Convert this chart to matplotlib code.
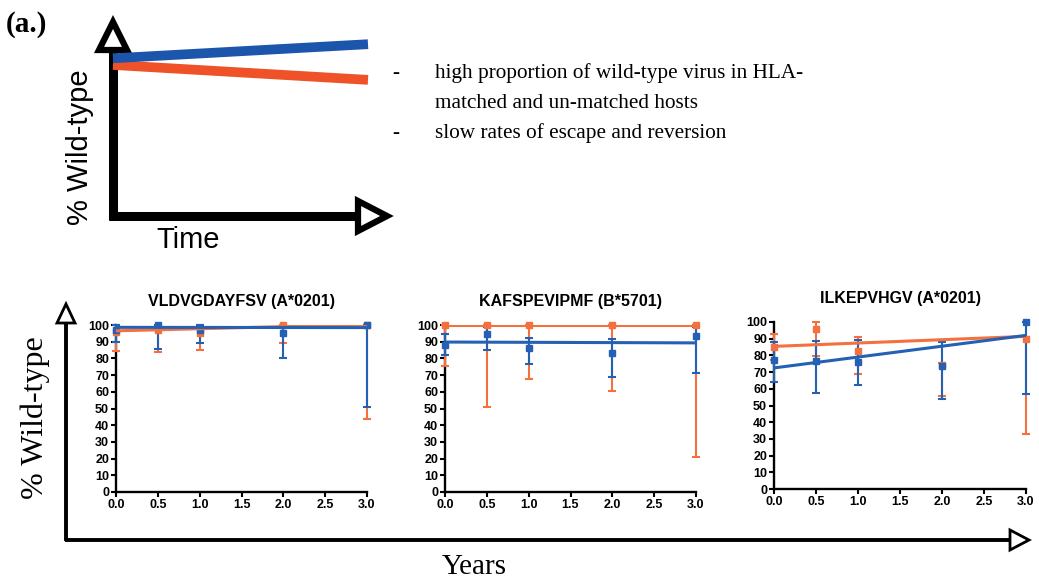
import matplotlib
matplotlib.use("Agg")
import matplotlib.pyplot as plt
import numpy as np
from matplotlib.patches import Polygon

W, H = 1039, 585
fig = plt.figure(figsize=(W / 100, H / 100), dpi=100)

BLUE = "#2461b5"
ORANGE = "#f4703e"
SCHEM_BLUE = "#1c55ac"
SCHEM_ORANGE = "#ef5228"

# ---------------- data ----------------
years = [0.0, 0.5, 1.0, 2.0, 3.0]
x_ticks = [0.0, 0.5, 1.0, 1.5, 2.0, 2.5, 3.0]
y_ticks = [0, 10, 20, 30, 40, 50, 60, 70, 80, 90, 100]
titles = ["VLDVGDAYFSV (A*0201)", "KAFSPEVIPMF (B*5701)", "ILKEPVHGV (A*0201)"]

# panel 1: VLDVGDAYFSV (A*0201)
p1_blue_mean = [97, 100, 97, 95.5, 100]
p1_blue_low = [90, 85.5, 89.5, 80.5, 51]
p1_blue_high = [100, 100, 100, 99, 100]
p1_orange_mean = [96, 97, 95, 100, 100]
p1_orange_low = [84.5, 84, 85, 89.5, 44]
p1_orange_high = [100, 100, 100, 100, 100]
p1_blue_fit = [98.6, -0.05]      # intercept, slope
p1_orange_fit = [96.5, 1.27]

# panel 2: KAFSPEVIPMF (B*5701)
p2_blue_mean = [88, 94.6, 86, 83.3, 93.6]
p2_blue_low = [82, 85.3, 76.7, 69.1, 71.5]
p2_blue_high = [94.4, 99, 92.4, 91.8, 99]
p2_orange_mean = [100, 100, 100, 100, 100]
p2_orange_low = [75.7, 50.8, 67.7, 60.6, 20.7]
p2_orange_high = [100, 100, 100, 100, 100]
p2_blue_fit = [89.8, -0.17]
p2_orange_fit = [100.0, 0.0]

# panel 3: ILKEPVHGV (A*0201)
p3_blue_mean = [77.5, 76.4, 75.8, 73.8, 100]
p3_blue_low = [64, 57.5, 62.3, 54, 57]
p3_blue_high = [88, 88.8, 89.2, 88.2, 100]
p3_orange_mean = [85, 96, 82.8, 74, 90]
p3_orange_low = [77, 79.6, 68.7, 55.5, 33]
p3_orange_high = [93, 100, 91.2, 75.5, 91]
p3_blue_fit = [72.5, 6.5]
p3_orange_fit = [85.4, 2.0]

# schematic trends (relative scale)
schem_time = [0.0, 1.0]
schem_blue = [0.95, 1.035]
schem_orange = [0.91, 0.82]

panels = [
    (p1_blue_mean, p1_blue_low, p1_blue_high, p1_orange_mean, p1_orange_low, p1_orange_high, p1_blue_fit, p1_orange_fit),
    (p2_blue_mean, p2_blue_low, p2_blue_high, p2_orange_mean, p2_orange_low, p2_orange_high, p2_blue_fit, p2_orange_fit),
    (p3_blue_mean, p3_blue_low, p3_blue_high, p3_orange_mean, p3_orange_low, p3_orange_high, p3_blue_fit, p3_orange_fit),
]


def px_rect(left, top, right, bottom):
    return [left / W, (H - bottom) / H, (right - left) / W, (bottom - top) / H]


# ---------------- decoration overlay ----------------
deco = fig.add_axes([0, 0, 1, 1], zorder=0)
deco.set_xlim(0, W)
deco.set_ylim(H, 0)
deco.axis("off")

# top schematic axes arrows
deco.plot([113, 113], [220, 52], color="black", lw=6.5, solid_capstyle="butt", zorder=2)
deco.plot([109, 357], [216, 216], color="black", lw=6.5, solid_capstyle="butt", zorder=2)
deco.add_patch(Polygon([[99, 50], [127, 50], [113, 22]], closed=True, facecolor="white",
                       edgecolor="black", lw=4.5, joinstyle="miter", zorder=3))
deco.add_patch(Polygon([[358, 201], [358, 231], [387, 216]], closed=True, facecolor="white",
                       edgecolor="black", lw=4.5, joinstyle="miter", zorder=3))

# bottom big arrows
deco.plot([66, 66], [541, 323], color="black", lw=2.8, solid_capstyle="butt", zorder=2)
deco.plot([65, 1010], [540, 540], color="black", lw=2.8, solid_capstyle="butt", zorder=2)
deco.add_patch(Polygon([[57, 323], [75, 323], [66, 304]], closed=True, facecolor="white",
                       edgecolor="black", lw=2, joinstyle="miter", zorder=3))
deco.add_patch(Polygon([[1010, 530], [1010, 550], [1029, 540]], closed=True, facecolor="white",
                       edgecolor="black", lw=2, joinstyle="miter", zorder=3))

# texts
fig.text(6 / W, 1 - 24 / H, "(a.)", family="Liberation Serif", fontweight="bold",
         fontsize=21, va="center", ha="left")
fig.text(80 / W, 1 - 147 / H, "% Wild-type", family="Liberation Sans", fontsize=21,
         rotation=90, ha="center", va="center")
fig.text(188 / W, 1 - 240 / H, "Time", family="Liberation Sans", fontsize=21,
         ha="center", va="center")

bullet_lines = [("-", "high proportion of wild-type virus in HLA-"),
                ("", "matched and un-matched hosts"),
                ("-", "slow rates of escape and reversion")]
for i, (dash, line) in enumerate(bullet_lines):
    yb = 78 + 30 * i
    if dash:
        fig.text(392 / W, 1 - yb / H, dash, family="Liberation Serif", fontsize=15.3,
                 ha="left", va="baseline")
    fig.text(435 / W, 1 - yb / H, line, family="Liberation Serif", fontsize=15.3,
             ha="left", va="baseline")

fig.text(35 / W, 1 - 418 / H, "% Wild-type", family="Liberation Serif", fontsize=23,
         rotation=90, ha="center", va="center")
fig.text(474 / W, 1 - 567 / H, "Years", family="Liberation Serif", fontsize=21,
         ha="center", va="center")

# schematic trend lines
sch = fig.add_axes(px_rect(113, 50, 368, 216), zorder=4)
sch.set_xlim(0, 1)
sch.set_ylim(0, 1)
sch.axis("off")
sch.patch.set_alpha(0)
sch.plot(schem_time, schem_orange, color=SCHEM_ORANGE, lw=7, solid_capstyle="butt", clip_on=False)
sch.plot(schem_time, schem_blue, color=SCHEM_BLUE, lw=7, solid_capstyle="butt", clip_on=False)

# ---------------- data panels ----------------
panel_px = [(116, 325, 367, 492), (445, 325, 696, 492), (774, 322, 1026, 489)]
tick_font = dict(family="Liberation Sans", fontweight="bold", size=9)

for (rect, title, data) in zip(panel_px, titles, panels):
    bm, bl, bh, om, ol, oh, bfit, ofit = data
    ax = fig.add_axes(px_rect(*rect), zorder=5)
    ax.patch.set_alpha(0)
    ax.set_xlim(0, 3)
    ax.set_ylim(0, 100)
    ax.set_xticks(x_ticks)
    ax.set_yticks(y_ticks)
    ax.set_xticklabels([f"{t:.1f}" for t in x_ticks], fontdict=tick_font)
    ax.set_yticklabels([str(t) for t in y_ticks], fontdict=tick_font)
    for s in ["top", "right"]:
        ax.spines[s].set_visible(False)
    for s in ["left", "bottom"]:
        ax.spines[s].set_linewidth(1.7)
    ax.tick_params(axis="both", direction="out", length=3.5, width=1.5, pad=1.5)
    ax.set_title(title, fontdict=dict(family="Liberation Sans", fontweight="bold", size=11.5), pad=14)

    xs = np.array(years)
    xf = np.array([0.0, 3.0])
    for mean, low, high, fit, col in [(om, ol, oh, ofit, ORANGE), (bm, bl, bh, bfit, BLUE)]:
        mean = np.array(mean, float)
        yerr = [mean - np.array(low), np.array(high) - mean]
        cont = ax.errorbar(xs, mean, yerr=yerr, fmt="s", color=col, ms=4, elinewidth=1.5,
                           capsize=3, capthick=1.5, zorder=3)
        cont.lines[0].set_clip_on(False)
        for a in cont.lines[1]:
            a.set_clip_on(False)
        for a in cont.lines[2]:
            a.set_clip_on(False)
        ax.plot(xf, fit[0] + fit[1] * xf, color=col, lw=2.2, zorder=4)

fig.savefig("out.png", dpi=100)
